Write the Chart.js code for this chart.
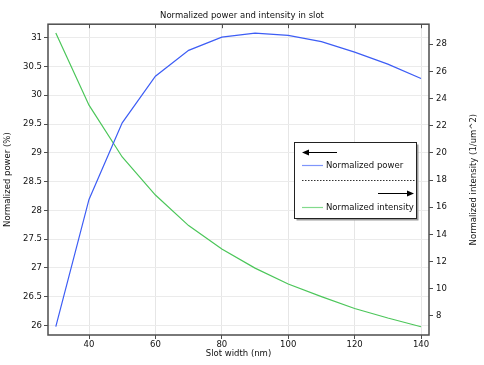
<!DOCTYPE html>
<html>
<head>
<meta charset="utf-8">
<script src="https://cdn.jsdelivr.net/npm/chart.js@4"></script>
<style>
  html, body { margin: 0; padding: 0; background: #fff; }
  #wrap { width: 484px; height: 365px; }
</style>
</head>
<body>
<div id="wrap"><canvas id="graph"></canvas></div>
<script>
const slotWidth = [30, 40, 50, 60, 70, 80, 90, 100, 110, 120, 130, 140];
const power = [25.98, 28.19, 29.52, 30.33, 30.78, 31.01, 31.08, 31.04, 30.93, 30.75, 30.54, 30.29];
const intensity = [28.83, 23.51, 19.7, 16.9, 14.65, 12.93, 11.52, 10.35, 9.42, 8.55, 7.85, 7.21];
const xTicks = [40, 60, 80, 100, 120, 140];
const powerTicks = [26, 26.5, 27, 27.5, 28, 28.5, 29, 29.5, 30, 30.5, 31];
const intensityTicks = [8, 10, 12, 14, 16, 18, 20, 22, 24, 26, 28];

const bleu = "#3d5df5";
const vert = "#4cc65a";
const police = "DejaVu Sans";
const taille = 8.5;

// cadre du graphique + legende facon COMSOL
const cadre = {
  id: "cadre",
  afterDraw(chart) {
    const { ctx, chartArea: a } = chart;
    ctx.save();
    ctx.strokeStyle = "#4d4d4d";
    ctx.lineWidth = 1.5;
    ctx.strokeRect(a.left, a.top, a.right - a.left, a.bottom - a.top);
    // petits traits en haut
    const sx = chart.scales.x;
    ctx.lineWidth = 1;
    xTicks.forEach(v => {
      const px = Math.round(sx.getPixelForValue(v)) + 0.5;
      ctx.beginPath();
      ctx.moveTo(px, a.top);
      ctx.lineTo(px, a.top + 4);
      ctx.stroke();
    });

    // titre de l'axe de droite, lu de bas en haut
    ctx.fillStyle = "#111";
    ctx.font = taille + "px '" + police + "'";
    ctx.textAlign = "center";
    ctx.textBaseline = "middle";
    ctx.save();
    ctx.translate(474, (a.top + a.bottom) / 2);
    ctx.rotate(-Math.PI / 2);
    ctx.fillText("Normalized intensity (1/um^2)", 0, 0);
    ctx.restore();

    // legende
    const bx = 294.5, by = 142.5, bw = 122, bh = 76;
    ctx.fillStyle = "#9a9a9a";
    ctx.fillRect(bx + 2, by + 2, bw, bh);
    ctx.fillStyle = "#fff";
    ctx.fillRect(bx, by, bw, bh);
    ctx.strokeStyle = "#222";
    ctx.lineWidth = 1;
    ctx.strokeRect(bx, by, bw, bh);

    const fleche = (x1, x2, y) => {
      ctx.strokeStyle = "#000";
      ctx.fillStyle = "#000";
      ctx.lineWidth = 1.2;
      ctx.beginPath();
      ctx.moveTo(x1, y);
      ctx.lineTo(x2, y);
      ctx.stroke();
      const d = x2 > x1 ? 1 : -1;
      ctx.beginPath();
      ctx.moveTo(x2 + d * 1, y);
      ctx.lineTo(x2 - d * 6, y - 3);
      ctx.lineTo(x2 - d * 6, y + 3);
      ctx.closePath();
      ctx.fill();
    };
    fleche(337, 303, 152.5);
    fleche(378, 413, 193.5);

    ctx.lineWidth = 1.2;
    ctx.strokeStyle = "#7f95fb";
    ctx.beginPath(); ctx.moveTo(302, 165.5); ctx.lineTo(323, 165.5); ctx.stroke();
    ctx.strokeStyle = "#82da8c";
    ctx.beginPath(); ctx.moveTo(302, 207.5); ctx.lineTo(323, 207.5); ctx.stroke();

    ctx.strokeStyle = "#333";
    ctx.lineWidth = 1;
    ctx.setLineDash([1.5, 1.5]);
    ctx.beginPath(); ctx.moveTo(302, 180.5); ctx.lineTo(415, 180.5); ctx.stroke();
    ctx.setLineDash([]);

    ctx.fillStyle = "#111";
    ctx.textAlign = "left";
    ctx.fillText("Normalized power", 326, 166);
    ctx.fillText("Normalized intensity", 326, 208);
    ctx.restore();
  }
};

const ctx = document.getElementById("graph").getContext("2d");
new Chart(ctx, {
  type: "line",
  data: {
    datasets: [
      {
        label: "Normalized power",
        data: slotWidth.map((w, i) => ({ x: w, y: power[i] })),
        borderColor: bleu,
        borderWidth: 1.2,
        pointRadius: 0,
        tension: 0,
        yAxisID: "y"
      },
      {
        label: "Normalized intensity",
        data: slotWidth.map((w, i) => ({ x: w, y: intensity[i] })),
        borderColor: vert,
        borderWidth: 1.2,
        pointRadius: 0,
        tension: 0,
        yAxisID: "y2"
      }
    ]
  },
  options: {
    responsive: true,
    maintainAspectRatio: false,
    animation: false,
    layout: { padding: { top: 0, right: 0, bottom: 0, left: 0 } },
    plugins: {
      legend: { display: false },
      tooltip: { enabled: false },
      title: {
        display: true,
        text: "Normalized power and intensity in slot",
        color: "#111",
        font: { family: police, size: taille, weight: "normal" },
        padding: { top: 11, bottom: 3 }
      }
    },
    scales: {
      x: {
        type: "linear",
        min: 27.65,
        max: 142.4,
        afterBuildTicks: s => { s.ticks = xTicks.map(v => ({ value: v })); },
        afterFit: s => { s.height = 30; },
        border: { display: false },
        grid: { color: "#e6e6e6", tickColor: "#4d4d4d", tickLength: 4 },
        ticks: { color: "#111", font: { family: police, size: taille }, padding: 1, maxRotation: 0 },
        title: {
          display: true,
          text: "Slot width (nm)",
          color: "#111",
          font: { family: police, size: taille },
          padding: { top: 0, bottom: 6 }
        }
      },
      y: {
        position: "left",
        min: 25.835,
        max: 31.234,
        afterBuildTicks: s => { s.ticks = powerTicks.map(v => ({ value: v })); },
        afterFit: s => { s.width = 48; },
        border: { display: false },
        grid: { color: "#ebebeb", tickColor: "#4d4d4d", tickLength: 4 },
        ticks: { color: "#111", font: { family: police, size: taille }, padding: 2, callback: v => String(v) },
        title: {
          display: true,
          text: "Normalized power (%)",
          color: "#111",
          font: { family: police, size: taille },
          padding: { top: 3, bottom: 0 }
        }
      },
      y2: {
        position: "right",
        min: 6.6,
        max: 29.47,
        afterBuildTicks: s => { s.ticks = intensityTicks.map(v => ({ value: v })); },
        afterFit: s => { s.width = 55; },
        border: { display: false },
        grid: { drawOnChartArea: false, tickColor: "#4d4d4d", tickLength: 4 },
        ticks: { color: "#111", font: { family: police, size: taille }, padding: 3, callback: v => String(v) }
      }
    }
  },
  plugins: [cadre]
});
</script>
</body>
</html>
